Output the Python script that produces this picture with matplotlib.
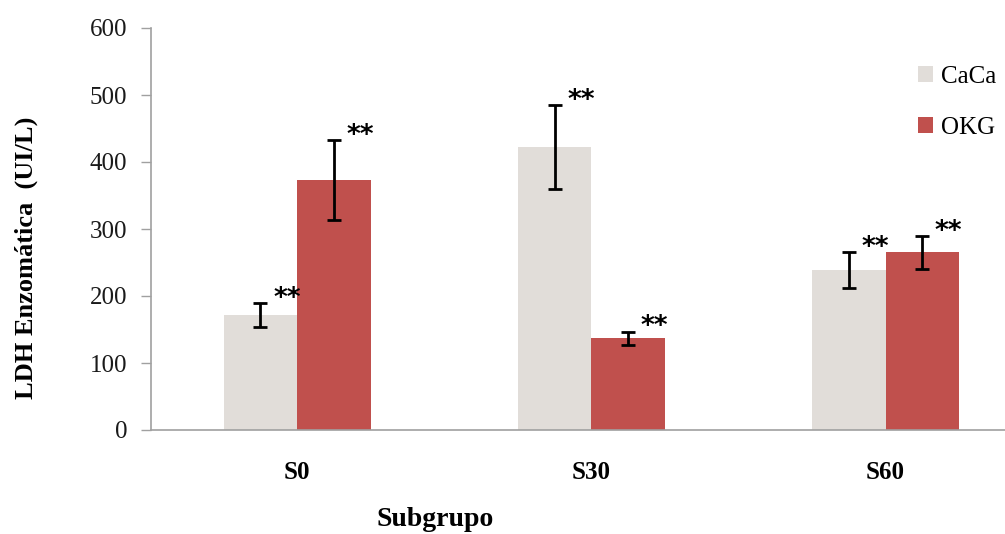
import numpy as np
import matplotlib
matplotlib.use("Agg")
import matplotlib.pyplot as plt

# data
groups = ["S0", "S30", "S60"]
series = ["CaCa", "OKG"]
caca = [171, 422, 239]
caca_err = [18, 63, 27]
okg = [373, 137, 265]
okg_err = [60, 10, 25]
marks = ["**", "**", "**"]

colors = ["#E1DDD9", "#C0504D"]

plt.rcParams["font.family"] = ["Liberation Serif", "DejaVu Serif"]

fig = plt.figure(figsize=(10.05, 5.34), dpi=100)
ax = fig.add_axes([151 / 1005, 104 / 534, 854 / 1005, 402 / 534])

x = np.arange(len(groups))
w = 0.25
vals = [caca, okg]
errs = [caca_err, okg_err]
for i, name in enumerate(series):
    pos = x + (i - 0.5) * w
    ax.bar(pos, vals[i], width=w, color=colors[i], label=name, zorder=2)
    ax.errorbar(pos, vals[i], yerr=errs[i], fmt="none", ecolor="black",
                elinewidth=2, capsize=5, capthick=2, zorder=3)
    for p, v, e, m in zip(pos, vals[i], errs[i], marks):
        ax.annotate(m, (p, v + e), xytext=(19, 3), textcoords="offset points",
                    ha="center", va="center", fontsize=19, fontweight="bold",
                    family="DejaVu Sans")

ax.set_xlim(-0.497, 2.406)
ax.set_ylim(0, 600)
ax.set_yticks(range(0, 601, 100))
ax.set_xticks(x)
ax.set_xticklabels(groups, fontsize=18, fontweight="bold")
ax.tick_params(axis="x", length=0, pad=22)
ax.tick_params(axis="y", length=7, width=1, color="#A0A0A0", labelsize=18,
               labelcolor="#1a1a1a", pad=10)

for s in ["top", "right"]:
    ax.spines[s].set_visible(False)
for s in ["left", "bottom"]:
    ax.spines[s].set_color("#A0A0A0")
    ax.spines[s].set_linewidth(1.2)

fig.text(26 / 1005, 1 - 258 / 534, "LDH Enzomática  (UI/L)", rotation=90,
         ha="center", va="center", fontsize=19, fontweight="bold")
fig.text(435 / 1005, 1 - 507 / 534, "Subgrupo", ha="center", va="top",
         fontsize=20, fontweight="bold")

ax.legend(frameon=False, loc="upper left", bbox_to_anchor=(918 / 1005, 1 - 66 / 534),
          bbox_transform=fig.transFigure, fontsize=18, handlelength=0.6,
          handleheight=0.6, handletextpad=0.3, labelspacing=1.15,
          borderpad=0, borderaxespad=0)

fig.savefig("out.png", dpi=100)
